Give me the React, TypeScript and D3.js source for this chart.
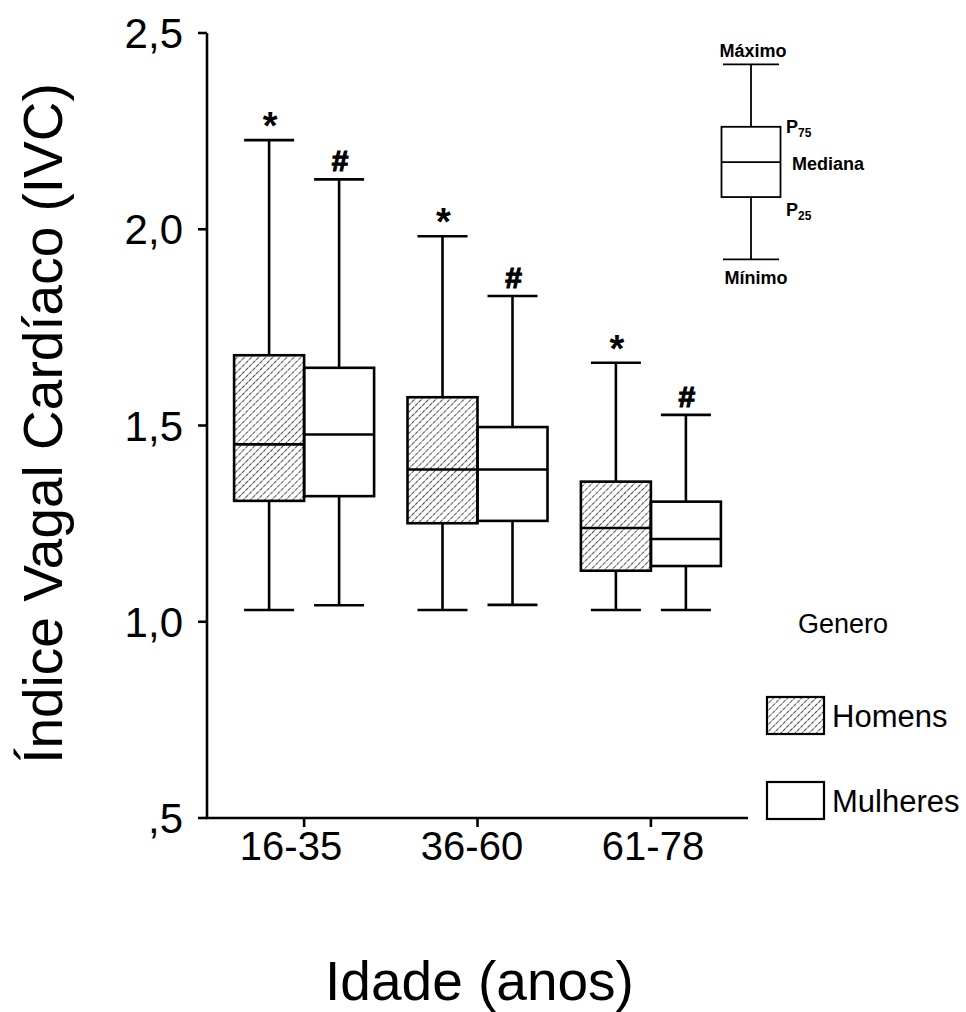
import React, { useEffect, useRef } from 'react';
import * as d3 from 'd3';

const categories = ['16-35', '36-60', '61-78'];

const homensMin = [1.03, 1.03, 1.03];
const homensQ1 = [1.308, 1.251, 1.13];
const homensMed = [1.452, 1.388, 1.239];
const homensQ3 = [1.679, 1.572, 1.357];
const homensMax = [2.227, 1.982, 1.66];

const mulheresMin = [1.042, 1.043, 1.03];
const mulheresQ1 = [1.32, 1.257, 1.142];
const mulheresMed = [1.477, 1.388, 1.211];
const mulheresQ3 = [1.647, 1.496, 1.306];
const mulheresMax = [2.127, 1.83, 1.527];

const yTicks = [0.5, 1.0, 1.5, 2.0, 2.5];
const yTickLabels = [',5', '1,0', '1,5', '2,0', '2,5'];

// schematic box in the top-right key (min, q1, median, q3, max)
const keyBox = [1.923, 2.082, 2.171, 2.261, 2.42];

const FONT = '"Liberation Sans", Arial, Helvetica, sans-serif';

const App = () => {
  const svgRef = useRef(null);

  useEffect(() => {
    const width = 966;
    const height = 1012;
    d3.select(svgRef.current).selectAll('*').remove();

    const svg = d3.select(svgRef.current)
      .attr('width', width)
      .attr('height', height)
      .style('font-family', FONT);

    // hatch for the men's boxes
    svg.append('defs')
      .append('pattern')
      .attr('id', 'hatch')
      .attr('patternUnits', 'userSpaceOnUse')
      .attr('width', 5)
      .attr('height', 5)
      .attr('patternTransform', 'rotate(45)')
      .append('line')
      .attr('x1', 0).attr('y1', 0)
      .attr('x2', 0).attr('y2', 5)
      .attr('stroke', '#000')
      .attr('stroke-width', 1.4)
      .attr('stroke-dasharray', '3.5,1');

    const axisLeft = 207;
    const axisRight = 748;
    const y = d3.scaleLinear().domain([0.5, 2.5]).range([818, 33]);
    const x = d3.scalePoint().domain(categories).range([axisLeft, axisRight]).padding(0.56);
    // tick labels sit a little off their ticks in the original
    const xLabel = d3.scalePoint().domain(categories).range([291, 653]);

    const boxW = 70;
    const capW = 50;
    const sw = 2.6;

    // axes
    svg.append('line')
      .attr('x1', axisLeft).attr('x2', axisLeft)
      .attr('y1', y(2.5)).attr('y2', y(0.5))
      .attr('stroke', '#000').attr('stroke-width', sw);
    svg.append('line')
      .attr('x1', axisLeft - 1).attr('x2', axisRight)
      .attr('y1', y(0.5)).attr('y2', y(0.5))
      .attr('stroke', '#000').attr('stroke-width', sw);

    yTicks.forEach((t, i) => {
      svg.append('line')
        .attr('x1', axisLeft - 9).attr('x2', axisLeft)
        .attr('y1', y(t)).attr('y2', y(t))
        .attr('stroke', '#000').attr('stroke-width', sw);
      svg.append('text')
        .attr('x', axisLeft - 24)
        .attr('y', y(t))
        .attr('dy', '0.36em')
        .attr('text-anchor', 'end')
        .attr('font-size', 42)
        .text(yTickLabels[i]);
    });

    categories.forEach((c) => {
      svg.append('line')
        .attr('x1', x(c)).attr('x2', x(c))
        .attr('y1', y(0.5)).attr('y2', y(0.5) + 9)
        .attr('stroke', '#000').attr('stroke-width', sw);
      svg.append('text')
        .attr('x', xLabel(c))
        .attr('y', 860)
        .attr('text-anchor', 'middle')
        .attr('font-size', 40)
        .text(c);
    });

    const drawBox = (cx, mn, q1, md, q3, mx, fill) => {
      const g = svg.append('g')
        .attr('stroke', '#000')
        .attr('stroke-width', sw)
        .attr('fill', 'none');
      g.append('line').attr('x1', cx).attr('x2', cx).attr('y1', y(mx)).attr('y2', y(q3));
      g.append('line').attr('x1', cx).attr('x2', cx).attr('y1', y(q1)).attr('y2', y(mn));
      g.append('line').attr('x1', cx - capW / 2).attr('x2', cx + capW / 2).attr('y1', y(mx)).attr('y2', y(mx));
      g.append('line').attr('x1', cx - capW / 2).attr('x2', cx + capW / 2).attr('y1', y(mn)).attr('y2', y(mn));
      g.append('rect')
        .attr('x', cx - boxW / 2).attr('width', boxW)
        .attr('y', y(q3)).attr('height', y(q1) - y(q3))
        .attr('fill', fill);
      g.append('line').attr('x1', cx - boxW / 2).attr('x2', cx + boxW / 2).attr('y1', y(md)).attr('y2', y(md));
    };

    categories.forEach((c, i) => {
      const cx = x(c);
      const hx = cx - boxW / 2;
      const mx = cx + boxW / 2;
      drawBox(mx, mulheresMin[i], mulheresQ1[i], mulheresMed[i], mulheresQ3[i], mulheresMax[i], '#fff');
      drawBox(hx, homensMin[i], homensQ1[i], homensMed[i], homensQ3[i], homensMax[i], 'url(#hatch)');

      svg.append('text')
        .attr('x', hx + 1)
        .attr('y', y(homensMax[i]) - 1)
        .attr('text-anchor', 'middle')
        .attr('font-size', 38)
        .attr('font-weight', 'bold')
        .text('*');
      svg.append('text')
        .attr('x', mx + 1)
        .attr('y', y(mulheresMax[i]) - 8)
        .attr('text-anchor', 'middle')
        .attr('font-size', 30)
        .attr('font-weight', 'bold')
        .attr('stroke', '#000')
        .attr('stroke-width', 1.2)
        .text('#');
    });

    // key schematic
    const kx = 751;
    const kw = 59;
    const kg = svg.append('g').attr('stroke', '#000').attr('stroke-width', 1.8).attr('fill', 'none');
    const [kMin, kQ1, kMed, kQ3, kMax] = keyBox;
    kg.append('line').attr('x1', kx).attr('x2', kx).attr('y1', y(kMax)).attr('y2', y(kQ3));
    kg.append('line').attr('x1', kx).attr('x2', kx).attr('y1', y(kQ1)).attr('y2', y(kMin));
    kg.append('line').attr('x1', kx - 28).attr('x2', kx + 28).attr('y1', y(kMax)).attr('y2', y(kMax));
    kg.append('line').attr('x1', kx - 28).attr('x2', kx + 28).attr('y1', y(kMin)).attr('y2', y(kMin));
    kg.append('rect').attr('x', kx - kw / 2).attr('width', kw)
      .attr('y', y(kQ3)).attr('height', y(kQ1) - y(kQ3)).attr('fill', '#fff');
    kg.append('line').attr('x1', kx - kw / 2).attr('x2', kx + kw / 2).attr('y1', y(kMed)).attr('y2', y(kMed));

    const keyText = (tx, ty, txt, anchor = 'start') => svg.append('text')
      .attr('x', tx).attr('y', ty)
      .attr('text-anchor', anchor)
      .attr('font-size', 18)
      .attr('font-weight', 'bold')
      .text(txt);
    keyText(753, y(kMax) - 7, 'Máximo', 'middle');
    keyText(756, y(kMin) + 25, 'Mínimo', 'middle');
    keyText(792, y(kMed) + 8, 'Mediana');
    const p75 = keyText(786, y(kQ3) + 6, 'P');
    p75.append('tspan').attr('font-size', 12).attr('dy', 4).text('75');
    const p25 = keyText(786, y(kQ1) + 19, 'P');
    p25.append('tspan').attr('font-size', 12).attr('dy', 4).text('25');

    // legend
    svg.append('text')
      .attr('x', 843).attr('y', 633)
      .attr('text-anchor', 'middle')
      .attr('font-size', 27)
      .text('Genero');
    const legend = [
      { label: 'Homens', fill: 'url(#hatch)', y0: 697 },
      { label: 'Mulheres', fill: '#fff', y0: 782 },
    ];
    legend.forEach((d) => {
      svg.append('rect')
        .attr('x', 767).attr('y', d.y0)
        .attr('width', 57).attr('height', 37)
        .attr('fill', d.fill)
        .attr('stroke', '#000').attr('stroke-width', 2.2);
      svg.append('text')
        .attr('x', 832).attr('y', d.y0 + 30)
        .attr('font-size', 31)
        .text(d.label);
    });

    // axis titles
    svg.append('text')
      .attr('x', (axisLeft + axisRight) / 2 + 2)
      .attr('y', 1000)
      .attr('text-anchor', 'middle')
      .attr('font-size', 55)
      .text('Idade (anos)');
    svg.append('text')
      .attr('transform', `translate(62, ${(y(0.5) + y(2.5)) / 2 - 2}) rotate(-90)`)
      .attr('text-anchor', 'middle')
      .attr('font-size', 55)
      .text('Índice Vagal Cardíaco (IVC)');
  }, []);

  return (
    <svg
      ref={svgRef}
      style={{ position: 'absolute', left: 0, top: 0, display: 'block', background: '#fff' }}
    />
  );
};

export default App;
